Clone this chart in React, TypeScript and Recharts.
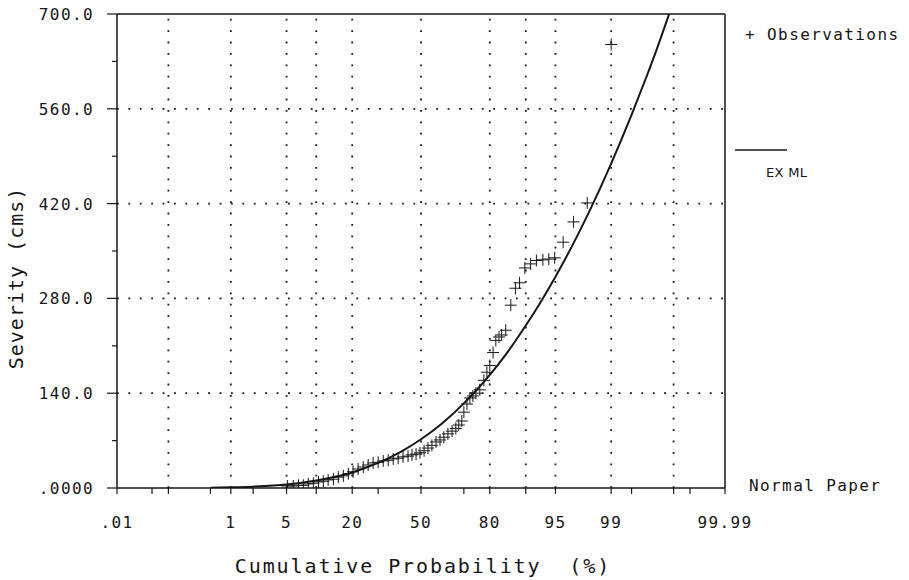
import React from 'react';
import { ComposedChart, Line, Scatter, XAxis, YAxis, ReferenceLine } from 'recharts';

// Normal probability paper: x values are cumulative probabilities in %
const xTickProbs = [0.01, 0.05, 0.1, 0.5, 1, 2, 5, 10, 20, 30, 50, 70, 80, 90, 95, 99, 99.5, 99.9, 99.95, 99.99];
const xLabelProbs = [0.01, 1, 5, 20, 50, 80, 95, 99, 99.99];
const xLabels = ['.01', '1', '5', '20', '50', '80', '95', '99', '99.99'];
const xGridProbs = [0.1, 1, 5, 10, 20, 50, 80, 90, 95, 99, 99.9];

const yTicks = [0, 70, 140, 210, 280, 350, 420, 490, 560, 630, 700];
const yLabelTicks = [0, 140, 280, 420, 560, 700];
const yLabels = ['.0000', '140.0', '280.0', '420.0', '560.0', '700.0'];
const yGrid = [140, 280, 420, 560];

// observations (+)
const obsProb = [
  5.1, 5.9, 6.7, 7.5, 8.4, 9.4, 10.5, 11.6, 12.8, 14.2, 15.6, 17.1, 18.7, 20.3, 22.1, 24.0, 25.9, 27.9,
  30.0, 32.2, 34.4, 36.7, 39.0, 41.3, 43.7, 45.6, 47.6, 49.5, 51.5, 53.4, 55.3, 57.3, 59.2, 61.0, 62.9,
  64.8, 66.5, 67.8, 69.1, 70.0, 71.3, 72.5, 73.7, 74.9, 76.4, 77.9, 79.0, 80.0, 81.1, 82.0, 83.0, 83.8,
  85.0, 86.4, 87.6, 88.6, 89.8, 91.0, 92.1, 93.2, 94.1, 94.9, 95.9, 96.9, 97.9, 99.0,
];
const obsValue = [
  3, 3, 4, 4, 6, 7, 9, 10, 12, 13, 16, 18, 21, 24, 28, 31, 34, 37,
  38, 40, 41, 43, 44, 46, 47, 49, 50, 52, 55, 59, 63, 68, 71, 75, 80,
  84, 88, 93, 99, 112, 124, 133, 136, 140, 145, 159, 171, 181, 200, 218, 223, 226,
  233, 270, 295, 303, 325, 331, 336, 337, 338, 340, 363, 393, 421, 655,
];

// fitted curve "EX ML"
const fitProb = [0.5, 1, 2, 5, 10, 15, 20, 30, 40, 50, 60, 70, 75, 80, 85, 90, 93, 95, 97, 98, 99, 99.5, 99.7, 99.8, 99.88];
const fitValue = [0.5, 1, 2, 5, 11, 17, 23, 37, 53, 72, 95, 125, 144, 167, 197, 240, 277, 312, 365, 407, 479, 551, 604, 646, 700];

// inverse standard normal cdf (Acklam), takes a percentage
function probit(pct: number): number {
  const p = pct / 100;
  const a = [-39.69683028665376, 220.9460984245205, -275.9285104469687, 138.357751867269, -30.66479806614716, 2.506628277459239];
  const b = [-54.47609879822406, 161.5858368580409, -155.6989798598866, 66.80131188771972, -13.28068155288572];
  const c = [-0.007784894002430293, -0.3223964580411365, -2.400758277161838, -2.549732539343734, 4.374664141464968, 2.938163982698783];
  const d = [0.007784695709041462, 0.3224671290700398, 2.445134137142996, 3.754408661907416];
  const plow = 0.02425;
  if (p < plow) {
    const q = Math.sqrt(-2 * Math.log(p));
    return (((((c[0] * q + c[1]) * q + c[2]) * q + c[3]) * q + c[4]) * q + c[5]) / ((((d[0] * q + d[1]) * q + d[2]) * q + d[3]) * q + 1);
  }
  if (p > 1 - plow) {
    const q = Math.sqrt(-2 * Math.log(1 - p));
    return -(((((c[0] * q + c[1]) * q + c[2]) * q + c[3]) * q + c[4]) * q + c[5]) / ((((d[0] * q + d[1]) * q + d[2]) * q + d[3]) * q + 1);
  }
  const q = p - 0.5;
  const r = q * q;
  return ((((((a[0] * r + a[1]) * r + a[2]) * r + a[3]) * r + a[4]) * r + a[5]) * q) / (((((b[0] * r + b[1]) * r + b[2]) * r + b[3]) * r + b[4]) * r + 1);
}

const obsData = obsProb.map((p, i) => ({ z: probit(p), v: obsValue[i] }));
const fitData = fitProb.map((p, i) => ({ z: probit(p), v: fitValue[i] }));
const zMin = probit(0.01);
const zMax = probit(99.99);

const INK = '#161616';
const monoFont = { fontFamily: "'DejaVu Sans Mono', monospace", fontSize: 16, letterSpacing: 1.4, fill: INK };
const titleFont = { fontFamily: "'DejaVu Sans Mono', monospace", fontSize: 20, letterSpacing: 1.9, fill: INK, whiteSpace: 'pre' as const };

const XTick = ({ x, y, payload }: any) => {
  const i = xLabelProbs.findIndex((p) => Math.abs(probit(p) - payload.value) < 1e-9);
  return (
    <g>
      <line x1={x} y1={y} x2={x} y2={y + 6} stroke={INK} strokeWidth={1.2} />
      {i >= 0 && (
        <text x={x} y={y + 40} textAnchor="middle" style={monoFont}>
          {xLabels[i]}
        </text>
      )}
    </g>
  );
};

const YTick = ({ x, y, payload }: any) => {
  const i = yLabelTicks.indexOf(payload.value);
  return (
    <g>
      <line x1={x - (i >= 0 ? 10 : 5)} y1={y} x2={x} y2={y} stroke={INK} strokeWidth={1.2} />
      {i >= 0 && (
        <text x={x - 23} y={y + 6} textAnchor="end" style={monoFont}>
          {yLabels[i]}
        </text>
      )}
    </g>
  );
};

const Cross = (props: any) => {
  const { cx, cy } = props;
  return <path d={`M${cx - 6},${cy}h12M${cx},${cy - 6}v12`} stroke={INK} strokeWidth={1} fill="none" />;
};

export default function App() {
  return (
    <div style={{ position: 'absolute', left: 0, top: 0, width: 909, height: 580, background: '#fff' }}>
      <ComposedChart width={909} height={580} margin={{ top: 14, right: 184, bottom: 0, left: 0 }} data={fitData}>
        <XAxis
          type="number"
          dataKey="z"
          domain={[zMin, zMax]}
          ticks={xTickProbs.map(probit)}
          interval={0}
          allowDataOverflow
          height={92}
          tickLine={false}
          tickSize={0}
          tickMargin={0}
          axisLine={{ stroke: INK, strokeWidth: 1.5 }}
          tick={<XTick />}
        />
        <YAxis
          type="number"
          domain={[0, 700]}
          ticks={yTicks}
          interval={0}
          allowDataOverflow
          width={117}
          tickLine={false}
          tickSize={0}
          tickMargin={0}
          axisLine={{ stroke: INK, strokeWidth: 1.5 }}
          tick={<YTick />}
        />
        {xGridProbs.map((p) => (
          <ReferenceLine key={`gx-${p}`} x={probit(p)} stroke={INK} strokeWidth={1.8} strokeDasharray="1.8 9.6" />
        ))}
        {yGrid.map((v) => (
          <ReferenceLine key={`gy-${v}`} y={v} stroke={INK} strokeWidth={1.8} strokeDasharray="1.8 9.6" />
        ))}
        <ReferenceLine y={700} stroke={INK} strokeWidth={1.5} />
        <ReferenceLine x={zMax} stroke={INK} strokeWidth={1.5} />
        <Line
          type="monotone"
          dataKey="v"
          stroke={INK}
          strokeWidth={2}
          dot={false}
          activeDot={false}
          isAnimationActive={false}
        />
        <Scatter data={obsData} dataKey="v" shape={<Cross />} isAnimationActive={false} />
      </ComposedChart>
      <svg width={909} height={580} style={{ position: 'absolute', left: 0, top: 0, pointerEvents: 'none' }}>
        <text x={423} y={573} textAnchor="middle" style={titleFont}>
          {'Cumulative Probability  (%)'}
        </text>
        <text transform="translate(23,278) rotate(-90)" textAnchor="middle" style={{ ...titleFont, letterSpacing: 1.0 }}>
          {'Severity (cms)'}
        </text>
        <text x={745} y={40} style={monoFont}>
          + Observations
        </text>
        <line x1={735} y1={150} x2={787} y2={150} stroke={INK} strokeWidth={1.5} />
        <text x={766} y={177} style={{ fontFamily: "'DejaVu Sans', sans-serif", fontSize: 13, letterSpacing: 0.3, fill: INK }}>
          EX ML
        </text>
        <text x={749} y={491} style={monoFont}>
          Normal Paper
        </text>
      </svg>
    </div>
  );
}
